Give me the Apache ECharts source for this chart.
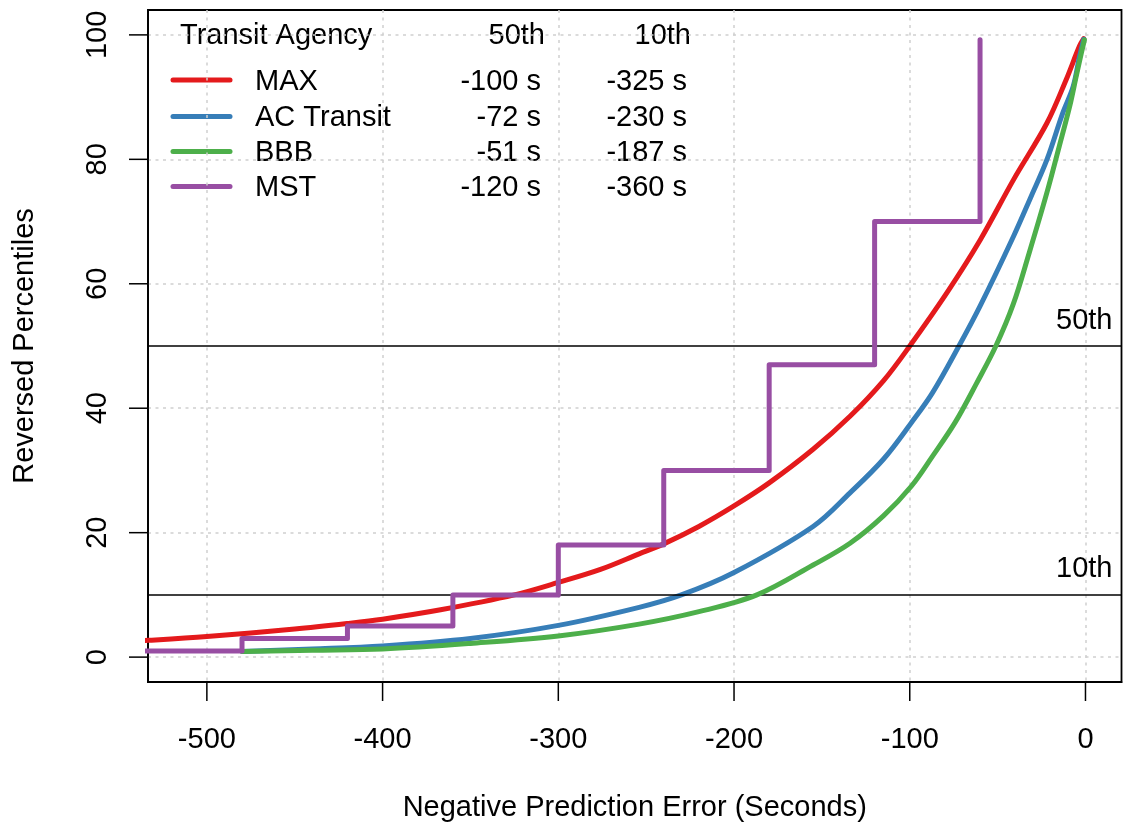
<!DOCTYPE html>
<html>
<head>
<meta charset="utf-8">
<script src="https://cdn.jsdelivr.net/npm/echarts@6/dist/echarts.min.js"></script>
<style>
  html, body { margin: 0; padding: 0; background: #ffffff; }
  #chart { width: 1123px; height: 825px; background: #ffffff; }
</style>
</head>
<body>
<div id="chart"></div>
<script>
// Reversed percentile curves of negative prediction error, per transit agency
const agencies = ['MAX', 'AC Transit', 'BBB', 'MST'];
const colors = ['#E41A1C', '#377EB8', '#4DAF4A', '#984EA3'];
const p50Labels = ['-100 s', '-72 s', '-51 s', '-120 s'];
const p10Labels = ['-325 s', '-230 s', '-187 s', '-360 s'];

const maxX = [-560, -533, -500, -450, -420, -400, -367, -325, -300, -276, -254, -240, -220, -200, -180, -155, -134, -115, -100, -79, -60, -41, -22, -11, -3.4, -1];
const maxY = [2.3, 2.7, 3.3, 4.5, 5.4, 6.1, 7.6, 10, 12, 14.1, 16.6, 18.2, 21, 24.3, 28, 33.4, 38.7, 44.4, 50, 58.5, 67, 76.7, 85.8, 92.8, 98.2, 99.4];

const acX = [-480, -440, -400, -350, -300, -254, -230, -200, -155, -134, -115, -99, -87, -72, -60, -41, -31, -22, -13, -7, -3.4, -1];
const acY = [0.9, 1.3, 1.8, 3.0, 5.1, 8.0, 10, 13.6, 21, 26.4, 31.8, 37.7, 42.5, 50, 56.4, 67.6, 74, 79.9, 87.4, 91.7, 96.5, 99.3];

const bbbX = [-480, -440, -400, -350, -300, -254, -220, -187, -155, -134, -115, -99, -87, -74, -62, -51, -41, -32, -22, -15, -9, -5.3, -2.4, -0.6];
const bbbY = [0.9, 1.1, 1.3, 2.2, 3.4, 5.3, 7.3, 10, 14.8, 18.3, 22.7, 27.5, 32.3, 37.8, 44.0, 50, 56.8, 65, 74.6, 82, 88.5, 93.3, 97, 99.2];

// MST is a step function: each level holds until the next x value
const mstX = [-560, -480, -420, -360, -300, -240, -180, -120, -60];
const mstY = [1, 3, 5, 10, 18, 30, 47, 70, 99.2];

const refLevels = [50, 10];
const refLabels = ['50th', '10th'];

const xTicks = [-500, -400, -300, -200, -100, 0];
const yTicks = [0, 20, 40, 60, 80, 100];
const xRange = [-533.5, 20.5];
const yRange = [-4, 104];

const FONT = '"Liberation Sans", Arial, sans-serif';
const FS = 29;
const TICK_LEN = 19;

function pairs(xs, ys) { return xs.map((x, i) => [x, ys[i]]); }

const chart = echarts.init(document.getElementById('chart'), null, { renderer: 'canvas' });

const curveSeries = [
  pairs(maxX, maxY), pairs(acX, acY), pairs(bbbX, bbbY)
].map((d, i) => ({
  name: agencies[i],
  type: 'line',
  data: d,
  showSymbol: false,
  smooth: 0.35,
  clip: true,
  lineStyle: { color: colors[i], width: 5, cap: 'round', join: 'round' },
  z: 3 + i
}));

const mstSeries = {
  name: agencies[3],
  type: 'line',
  data: pairs(mstX, mstY),
  step: 'end',
  showSymbol: false,
  clip: true,
  lineStyle: { color: colors[3], width: 5, cap: 'round', join: 'round' },
  z: 7
};

const refSeries = {
  type: 'line',
  data: [],
  silent: true,
  markLine: {
    silent: true,
    symbol: 'none',
    animation: false,
    lineStyle: { color: '#000', width: 1.5, type: 'solid' },
    label: {
      position: 'insideEndTop',
      distance: [9, 11],
      color: '#000',
      fontFamily: FONT,
      fontSize: FS
    },
    data: refLevels.map((v, i) => ({ yAxis: v, label: { formatter: refLabels[i] } }))
  },
  z: 2
};

// Legend block: header row plus one row per agency
const legendGraphics = [];
const headerY = 36;
const rowY = [80, 116.5, 151.5, 186.5];
const textShift = 1.5;
legendGraphics.push(
  { type: 'text', x: 180, y: headerY, style: { text: 'Transit Agency', font: `${FS}px ${FONT}`, fill: '#000', align: 'left', verticalAlign: 'middle' } },
  { type: 'text', x: 545, y: headerY, style: { text: '50th', font: `${FS}px ${FONT}`, fill: '#000', align: 'right', verticalAlign: 'middle' } },
  { type: 'text', x: 691, y: headerY, style: { text: '10th', font: `${FS}px ${FONT}`, fill: '#000', align: 'right', verticalAlign: 'middle' } }
);
agencies.forEach((name, i) => {
  const y = rowY[i];
  const ty = y + textShift;
  legendGraphics.push(
    { type: 'line', shape: { x1: 173, y1: y, x2: 230, y2: y }, style: { stroke: colors[i], lineWidth: 5, lineCap: 'round' } },
    { type: 'text', x: 255, y: ty, style: { text: name, font: `${FS}px ${FONT}`, fill: '#000', align: 'left', verticalAlign: 'middle' } },
    { type: 'text', x: 541, y: ty, style: { text: p50Labels[i], font: `${FS}px ${FONT}`, fill: '#000', align: 'right', verticalAlign: 'middle' } },
    { type: 'text', x: 687, y: ty, style: { text: p10Labels[i], font: `${FS}px ${FONT}`, fill: '#000', align: 'right', verticalAlign: 'middle' } }
  );
});

const gridLine = { show: true, lineStyle: { color: '#cfcfcf', width: 1.5, type: [3, 4.5] } };

chart.setOption({
  animation: false,
  textStyle: { fontFamily: FONT },
  grid: {
    left: 148, right: 1.5, top: 10, bottom: 143,
    show: true, borderColor: '#000', borderWidth: 1.8, backgroundColor: 'transparent',
    containLabel: false, outerBoundsMode: 'none'
  },
  xAxis: {
    type: 'value',
    min: xRange[0], max: xRange[1],
    name: 'Negative Prediction Error (Seconds)',
    nameLocation: 'middle',
    nameGap: 111,
    nameTextStyle: { color: '#000', fontSize: FS, fontFamily: FONT },
    axisLine: { show: true, onZero: false, lineStyle: { color: '#000', width: 1.8 } },
    axisTick: { show: false, customValues: xTicks },
    axisLabel: { show: true, margin: 43, customValues: xTicks, color: '#000', fontSize: FS, fontFamily: FONT },
    splitLine: gridLine
  },
  yAxis: {
    type: 'value',
    min: yRange[0], max: yRange[1],
    name: 'Reversed Percentiles',
    nameLocation: 'middle',
    nameRotate: 90,
    nameGap: 109,
    nameTextStyle: { color: '#000', fontSize: FS, fontFamily: FONT },
    axisLine: { show: true, onZero: false, lineStyle: { color: '#000', width: 1.8 } },
    axisTick: { show: false, customValues: yTicks },
    axisLabel: { show: true, rotate: 90, margin: 36, customValues: yTicks, color: '#000', fontSize: FS, fontFamily: FONT },
    splitLine: gridLine
  },
  graphic: legendGraphics,
  series: [refSeries, ...curveSeries, mstSeries]
});

// Outward tick marks on the bottom and left edges, positioned through the axis scales
const tickStyle = { stroke: '#000', lineWidth: 1.5 };
const tickGraphics = [];
xTicks.forEach(v => {
  const p = chart.convertToPixel({ gridIndex: 0 }, [v, yRange[0]]);
  tickGraphics.push({ type: 'line', zlevel: 1, z: 100, shape: { x1: p[0], y1: p[1], x2: p[0], y2: p[1] + TICK_LEN }, style: tickStyle });
});
yTicks.forEach(v => {
  const p = chart.convertToPixel({ gridIndex: 0 }, [xRange[0], v]);
  tickGraphics.push({ type: 'line', zlevel: 1, z: 100, shape: { x1: p[0], y1: p[1], x2: p[0] - TICK_LEN, y2: p[1] }, style: tickStyle });
});
chart.setOption({ graphic: legendGraphics.concat(tickGraphics) });
</script>
</body>
</html>
